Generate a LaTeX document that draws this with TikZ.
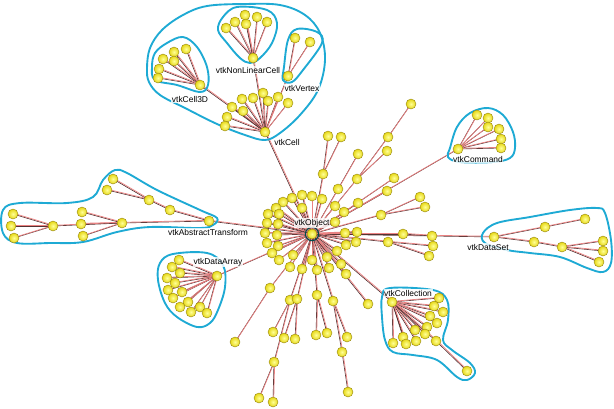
\documentclass[tikz,border=0pt]{standalone}
\usepackage{fontspec}
\newfontfamily\lblfont{Liberation Sans}
\usetikzlibrary{positioning}

\definecolor{hullblue}{RGB}{30,170,212}
\definecolor{lnkdark}{RGB}{85,50,50}
\definecolor{lnkpink}{RGB}{235,130,130}
\definecolor{ballrim}{RGB}{150,135,20}
\definecolor{ballin}{RGB}{255,255,150}
\definecolor{ballout}{RGB}{230,215,20}

\pgfdeclarelayer{bg}
\pgfsetlayers{bg,main}

\newcommand\lnk[2]{%
  \begin{pgfonlayer}{bg}
    \draw[darkline] (#1.center) -- (#2.center);
    \draw[pinkline] (#1.center) -- (#2.center);
  \end{pgfonlayer}}

\tikzset{
  ball/.style={circle, inner sep=0pt, minimum size=0.3cm, shade, shading=radial, inner color=ballin, outer color=ballout, draw=ballrim, line width=0.35pt},
  lbl/.style={font=\lblfont\fontsize{7.2}{8}\selectfont, inner sep=0.5pt, fill=white, fill opacity=0.8, text opacity=1},
  hull/.style={draw=hullblue, line width=1.6pt},
  darkline/.style={draw=lnkdark, line width=0.55pt},
  pinkline/.style={draw=lnkpink, line width=0.6pt, transform canvas={shift={(0.6pt,0.6pt)}}}
}

\begin{document}
\begin{tikzpicture}[x=0.03cm, y=-0.03cm]
    \useasboundingbox (0,0) rectangle (614,408);

    % group outlines
    \draw[hull] plot[smooth cycle, tension=0.6] coordinates {(147,68) (150,48) (162,30) (183,15) (207,6) (245,4) (280,5) (305,15) (320,33) (325,60) (318,90) (300,115) (280,133) (265,140) (245,135) (217,124) (185,108) (160,95) (149,82)};
    \draw[hull] plot[smooth cycle, tension=0.6] coordinates {(155,53) (167,43) (183,37) (197,47) (207,67) (208,85) (200,92) (177,85) (155,80) (152,67)};
    \draw[hull] plot[smooth cycle, tension=0.6] coordinates {(237,7) (267,10) (277,23) (272,43) (260,58) (250,63) (240,58) (227,43) (218,30) (223,17)};
    \draw[hull] plot[smooth cycle, tension=0.6] coordinates {(297,29) (317,32) (322,43) (303,70) (292,82) (283,80) (284,67) (288,40)};
    \draw[hull] plot[smooth cycle, tension=0.6] coordinates {(450,148) (457,127) (470,113) (488,108) (503,115) (513,132) (515,148) (510,158) (493,162) (460,162) (448,157)};
    \draw[hull] plot[smooth cycle, tension=0.6] coordinates {(483,233) (497,223) (530,217) (570,210) (597,208) (605,213) (611,240) (611,263) (603,272) (587,268) (560,257) (530,253) (507,250) (485,243)};
    \draw[hull] plot[smooth cycle, tension=0.6] coordinates {(3,210) (20,203) (67,203) (93,197) (103,180) (115,170) (127,173) (157,190) (200,210) (217,218) (213,225) (200,228) (150,227) (117,232) (83,242) (50,243) (17,243) (3,233)};
    \draw[hull] plot[smooth cycle, tension=0.6] coordinates {(160,263) (173,254) (207,253) (223,265) (225,287) (218,310) (210,323) (197,327) (177,317) (165,303) (158,280)};
    \draw[hull] plot[smooth cycle, tension=0.6] coordinates {(382,297) (390,288) (433,290) (447,300) (448,320) (443,340) (452,350) (470,363) (475,373) (467,380) (457,377) (437,360) (413,355) (393,352) (385,340) (382,317)};

    % class nodes
    \node[ball] (obj) at (312,234) {};
    \draw[teal!60!black, line width=0.9pt] (obj.center) circle (0.2cm);
    \node[ball] (cell) at (265,132) {};
    \node[ball] (cell3d) at (200,85) {};
    \node[ball] (nlcell) at (253,58) {};
    \node[ball] (vertex) at (288,76) {};
    \node[ball] (command) at (458,149) {};
    \node[ball] (dataset) at (494,237) {};
    \node[ball] (abstr) at (209,221) {};
    \node[ball] (darray) at (217,276) {};
    \node[ball] (collect) at (392,302) {};
    \lnk{obj}{cell} \lnk{cell}{cell3d} \lnk{cell}{nlcell} \lnk{cell}{vertex}
    \lnk{obj}{command} \lnk{obj}{dataset} \lnk{obj}{abstr}
    \lnk{obj}{darray} \lnk{obj}{collect}

    % leaves of each class
    \foreach \x/\y [count=\i] in {242/99,253/98,263/93,268/101,278/97,288/103,232/107,243/111,227/117,225/126}
        {\node[ball] (ce\i) at (\x,\y) {}; \lnk{cell}{ce\i}}
    \foreach \x/\y [count=\i] in {163/59,174/52,174/61,186/49,159/69,158/78}
        {\node[ball] (cd\i) at (\x,\y) {}; \lnk{cell3d}{cd\i}}
    \foreach \x/\y [count=\i] in {245/15,257/17,267/22,226/28,235/22,246/24}
        {\node[ball] (nl\i) at (\x,\y) {}; \lnk{nlcell}{nl\i}}
    \foreach \x/\y [count=\i] in {295/38,310/42}
        {\node[ball] (vx\i) at (\x,\y) {}; \lnk{vertex}{vx\i}}
    \foreach \x/\y [count=\i] in {477/115,488/118,488/127,499/129,501/139,501/148}
        {\node[ball] (cm\i) at (\x,\y) {}; \lnk{command}{cm\i}}
    \foreach \x/\y [count=\i] in {179/260,172/267,180/273,167/278,175/283,168/290,182/292,173/298,188/302,180/307,191/312,200/307,207/313}
        {\node[ball] (da\i) at (\x,\y) {}; \lnk{darray}{da\i}}
    \foreach \x/\y [count=\i] in {439/298,434/306,443/312,430/316,437/323,427/327,415/330,425/334,403/337,416/341,393/343,406/344,436/341}
        {\node[ball] (co\i) at (\x,\y) {}; \lnk{collect}{co\i}}
    \node[ball] (co14) at (467,371) {};
    \lnk{co13}{co14}

    % vtkDataSet subtree
    \node[ball] (ds1) at (545,227) {};
    \node[ball] (ds2) at (585,219) {};
    \node[ball] (ds3) at (534,242) {};
    \node[ball] (ds4) at (562,247) {};
    \node[ball] (ds5) at (603,241) {};
    \node[ball] (ds6) at (603,251) {};
    \node[ball] (ds7) at (599,262) {};
    \lnk{dataset}{ds1} \lnk{ds1}{ds2} \lnk{dataset}{ds3} \lnk{ds3}{ds4}
    \lnk{ds4}{ds5} \lnk{ds4}{ds6} \lnk{ds4}{ds7}

    % vtkAbstractTransform subtree
    \node[ball] (at1) at (170,210) {};
    \node[ball] (at2) at (149,200) {};
    \node[ball] (at3) at (113,179) {};
    \node[ball] (at4) at (107,190) {};
    \node[ball] (at5) at (122,223) {};
    \node[ball] (at6) at (82,212) {};
    \node[ball] (at7) at (81,224) {};
    \node[ball] (at8) at (83,236) {};
    \node[ball] (at9) at (53,226) {};
    \node[ball] (at10) at (13,214) {};
    \node[ball] (at11) at (11,226) {};
    \node[ball] (at12) at (14,238) {};
    \lnk{abstr}{at1} \lnk{at1}{at2} \lnk{at2}{at3} \lnk{at2}{at4}
    \lnk{abstr}{at5} \lnk{at5}{at6} \lnk{at5}{at7} \lnk{at5}{at8} \lnk{at5}{at9}
    \lnk{at9}{at10} \lnk{at9}{at11} \lnk{at9}{at12}

    % direct leaves of vtkObject
    \foreach \x/\y [count=\i] in {292/198,302/195,312/196,322/199,283/202,276/208,302/208,335/206,358/203,268/214,279/214,267/223,278/224,265/233,277/235,267/243,278/246,272/253,293/255,312/260,327/257,337/251,346/245,356/242,357/232,345/233,335/222,344/212,279/260,290/267,302/269,317/270,329/268,341/264,346/274,394/178,387/191,368/304}
        {\node[ball] (ob\i) at (\x,\y) {}; \lnk{obj}{ob\i}}

    % small branches of vtkObject
    \node[ball] (b1) at (323,174) {};
    \node[ball] (b1a) at (328,136) {};
    \node[ball] (b1b) at (341,137) {};
    \node[ball] (b2) at (357,179) {};
    \node[ball] (b3) at (388,137) {};
    \node[ball] (b3a) at (411,104) {};
    \node[ball] (b2a) at (387,151) {};
    \node[ball] (b4) at (338,189) {};
    \node[ball] (b4a) at (358,154) {};
    \node[ball] (b5) at (381,215) {};
    \node[ball] (b5a) at (420,197) {};
    \node[ball] (b5b) at (425,207) {};
    \node[ball] (b6) at (403,234) {};
    \node[ball] (b6a) at (432,236) {};
    \node[ball] (b7) at (388,242) {};
    \node[ball] (b7a) at (433,246) {};
    \node[ball] (b7b) at (429,256) {};
    \lnk{obj}{b1} \lnk{b1}{b1a} \lnk{b1}{b1b}
    \lnk{obj}{b2} \lnk{b2}{b3} \lnk{b3}{b3a} \lnk{b2}{b2a}
    \lnk{obj}{b4} \lnk{b4}{b4a}
    \lnk{obj}{b5} \lnk{b5}{b5a} \lnk{b5}{b5b}
    \lnk{obj}{b6} \lnk{b6}{b6a}
    \lnk{obj}{b7} \lnk{b7}{b7a} \lnk{b7}{b7b}

    \node[ball] (b8) at (270,288) {};
    \node[ball] (b8a) at (235,342) {};
    \node[ball] (b9) at (290,300) {};
    \node[ball] (b9a) at (273,332) {};
    \node[ball] (b10) at (274,362) {};
    \node[ball] (b10a) at (259,398) {};
    \node[ball] (b10b) at (273,402) {};
    \node[ball] (b11) at (297,299) {};
    \node[ball] (b11a) at (284,338) {};
    \node[ball] (b11b) at (295,339) {};
    \node[ball] (b12) at (317,295) {};
    \node[ball] (b12a) at (316,335) {};
    \node[ball] (b12b) at (327,333) {};
    \node[ball] (b13) at (333,301) {};
    \node[ball] (b13a) at (347,337) {};
    \node[ball] (b14) at (342,352) {};
    \node[ball] (b14a) at (348,392) {};
    \lnk{obj}{b8} \lnk{b8}{b8a}
    \lnk{obj}{b9} \lnk{b9}{b9a} \lnk{b9}{b10} \lnk{b10}{b10a} \lnk{b10}{b10b}
    \lnk{obj}{b11} \lnk{b11}{b11a} \lnk{b11}{b11b}
    \lnk{obj}{b12} \lnk{b12}{b12a} \lnk{b12}{b12b}
    \lnk{obj}{b13} \lnk{b13}{b13a} \lnk{b13}{b14} \lnk{b14}{b14a}

    % class names
    \node[lbl] (l-cell3d) at (190,99) {vtkCell3D};
    \node[lbl] (l-nlcell) at (248,70) {vtkNonLinearCell};
    \node[lbl] (l-vertex) at (302,88) {vtkVertex};
    \node[lbl] (l-cell) at (287,142) {vtkCell};
    \node[lbl] (l-command) at (478,159) {vtkCommand};
    \node[lbl] (l-abstr) at (208,232) {vtkAbstractTransform};
    \node[lbl] (l-obj) at (312,223) {vtkObject};
    \node[lbl] (l-dataset) at (488,247) {vtkDataSet};
    \node[lbl] (l-darray) at (218,262) {vtkDataArray};
    \node[lbl] (l-collect) at (408,293) {vtkCollection};
\end{tikzpicture}
\end{document}
